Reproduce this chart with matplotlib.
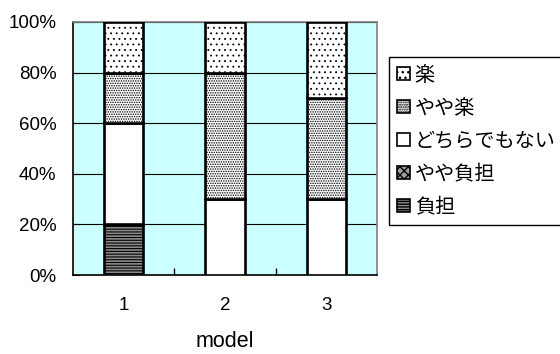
import matplotlib
matplotlib.use("Agg")
import matplotlib.pyplot as plt
import numpy as np

plt.rcParams['font.family'] = ['Liberation Sans', 'Noto Sans CJK JP', 'DejaVu Sans']

models = ['1', '2', '3']
# stacked from the bottom up
series = ['負担', 'やや負担', 'どちらでもない', 'やや楽', '楽']
futan = [20, 0, 0]
yaya_futan = [0, 0, 0]
dochira = [40, 30, 30]
yaya_raku = [20, 50, 40]
raku = [20, 20, 30]
values = [futan, yaya_futan, dochira, yaya_raku, raku]

styles = [
    dict(facecolor='#8c8c8c', hatch='------', hlw=0.8),
    dict(facecolor='#a0a0a0', hatch='xxxx', hlw=0.6),
    dict(facecolor='white', hatch=None, hlw=1.0),
    dict(facecolor='white', hatch='.......', hlw=0.7),
    dict(facecolor='white', hatch='...', hlw=0.6),
]

fig = plt.figure(figsize=(5.6, 3.54), dpi=100)
ax = fig.add_axes([73 / 560, 1 - 275 / 354, 304 / 560, 253 / 354])
ax.set_facecolor('#ccffff')

x = np.arange(1, len(models) + 1)
bottom = np.zeros(len(models))
handles = []
for name, vals, st in zip(series, values, styles):
    vals = np.array(vals, dtype=float)
    with plt.rc_context({'hatch.linewidth': st['hlw'], 'hatch.color': 'black'}):
        bars = ax.bar(x, vals, width=0.39, bottom=bottom, facecolor=st['facecolor'],
                      edgecolor='black', linewidth=1.9, hatch=st['hatch'], zorder=3,
                      label=name)
    handles.append(bars)
    bottom += vals

ax.set_xlim(0.5, 3.5)
ax.set_ylim(0, 100)
ax.set_yticks(np.arange(0, 101, 20))
ax.set_yticklabels([f'{v}%' for v in range(0, 101, 20)], fontsize=13.5)
ax.set_xticks(x)
ax.set_xticklabels(models, fontsize=13.5)
ax.set_xticks([1.5, 2.5], minor=True)
ax.tick_params(axis='x', which='major', length=0, pad=16)
ax.tick_params(axis='x', which='minor', direction='in', length=5, width=1, color='black')
ax.tick_params(axis='y', direction='in', length=4, pad=12, color='black')
ax.yaxis.grid(True, color='black', linewidth=0.8, zorder=1)
ax.set_axisbelow(True)
ax.set_xlabel('model', fontsize=15.5, labelpad=12)

for side in ['top', 'right']:
    ax.spines[side].set_color('#808080')
    ax.spines[side].set_linewidth(1.2)
for side in ['left', 'bottom']:
    ax.spines[side].set_color('black')
    ax.spines[side].set_linewidth(1.2)

leg = fig.legend(handles[::-1], series[::-1], loc='upper left',
                 bbox_to_anchor=(389 / 560, 0.356, 0.4, 1 - 57 / 354 - 0.356),
                 mode='expand', fontsize=14.5, handlelength=0.6, handleheight=0.6,
                 handletextpad=0.25, labelspacing=0.7, borderpad=0.42,
                 borderaxespad=0, fancybox=False, framealpha=1, edgecolor='black')
leg.get_frame().set_linewidth(1.0)
for h in leg.legend_handles:
    h.set_linewidth(1.2)

fig.savefig('out.png', dpi=100)
